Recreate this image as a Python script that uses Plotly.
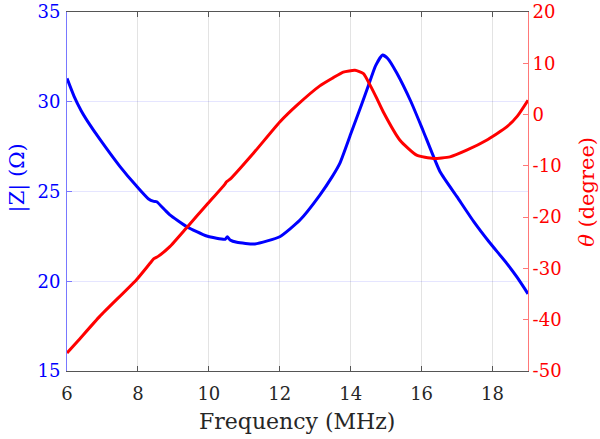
import plotly.graph_objects as go

# |Z| readings (MHz, ohm)
freq_z = [6.0, 6.2, 6.4, 6.6, 6.93, 7.49, 7.96, 8.29, 8.45, 8.53, 8.76, 8.9, 9.38, 9.94,
          10.46, 10.52, 10.6, 10.79, 11.3, 12.0, 12.57, 13.13, 13.47, 13.7, 14.0,
          14.3, 14.5, 14.7, 14.9, 15.05, 15.3, 15.7, 16.04, 16.52, 17.0, 17.46,
          17.9, 18.4, 18.7, 19.0]
z_mag = [31.3, 30.3, 29.5, 28.85, 27.9, 26.4, 25.3, 24.6, 24.45, 24.43, 23.97, 23.7, 23.04, 22.52,
         22.34, 22.48, 22.3, 22.17, 22.08, 22.48, 23.41, 24.8, 25.8, 26.6, 28.2,
         29.8, 30.9, 32.0, 32.6, 32.4, 31.6, 30.0, 28.4, 26.1, 24.7, 23.35,
         22.2, 21.0, 20.2, 19.3]

# phase readings (MHz, degree)
freq_th = [6.0, 6.3, 6.93, 7.96, 8.34, 8.45, 8.58, 8.9, 9.38, 9.94, 10.45, 10.5, 10.6,
           11.25, 12.0, 12.48, 13.13, 13.51, 13.79, 14.12, 14.36, 14.55, 14.74,
           14.92, 15.39, 15.86, 16.33, 16.8, 17.27, 17.83, 18.4, 18.7, 19.0]
theta = [-46.5, -44.2, -39.3, -32.2, -29.0, -28.1, -27.6, -25.75, -22.0, -17.6, -13.6, -13.1, -12.6,
         -7.6, -1.44, 1.8, 5.6, 7.2, 8.29, 8.62, 7.98, 5.7, 3.11,
         0.51, -5.0, -7.92, -8.56, -8.25, -6.95, -5.0, -2.41, -0.3, 2.8]

x_ticks = [6, 8, 10, 12, 14, 16, 18]
z_ticks = [15, 20, 25, 30, 35]
th_ticks = [20, 10, 0, -10, -20, -30, -40, -50]

serif = "DejaVu Serif"
blue = "#0000FF"
red = "#FF0000"
dark = "#262626"

fig = go.Figure()
fig.add_trace(go.Scatter(x=freq_z, y=z_mag, mode="lines", line=dict(color=blue, width=3),
                         line_shape="spline", line_smoothing=0.5, showlegend=False))
fig.add_trace(go.Scatter(x=freq_th, y=theta, mode="lines", line=dict(color=red, width=3),
                         line_shape="spline", line_smoothing=0.5, yaxis="y2", showlegend=False))

fig.update_layout(
    width=600, height=439,
    margin=dict(l=67, r=72, t=12, b=68),
    plot_bgcolor="white", paper_bgcolor="white",
    font=dict(family=serif, size=18, color=dark),
    xaxis=dict(
        range=[6, 19], tickvals=x_ticks, ticks="inside", ticklen=5, tickcolor="#555",
        showline=True, linecolor="#555", linewidth=1, mirror="ticks",
        showgrid=True, gridcolor="rgba(38,38,38,0.13)", zeroline=False,
        automargin=False, tickfont=dict(size=18, color=dark), ticklabelstandoff=6,
    ),
    yaxis=dict(
        range=[15, 35], tickvals=z_ticks, ticks="inside", ticklen=5, tickcolor="#7878FF",
        showline=True, linecolor="#7878FF", linewidth=1, mirror=False,
        showgrid=True, gridcolor="rgba(0,0,255,0.1)", zeroline=False,
        automargin=False, tickfont=dict(size=18, color=blue),
        ticklabeloverflow="allow", ticklabelstandoff=2,
    ),
    yaxis2=dict(
        range=[-50, 20], tickvals=th_ticks, ticktext=[str(v) for v in th_ticks],
        overlaying="y", side="right", anchor="x",
        ticks="inside", ticklen=5, tickcolor="#FF7878",
        showline=True, linecolor="#FF7878", linewidth=1,
        showgrid=False, zeroline=False,
        automargin=False, tickfont=dict(size=18, color=red),
        ticklabeloverflow="allow",
    ),
)

# axis titles placed by hand
fig.add_annotation(text="Frequency (MHz)", x=0.498, y=-0.142, xref="paper", yref="paper",
                   showarrow=False, xanchor="center", yanchor="middle",
                   font=dict(size=22, color=dark))
fig.add_annotation(text="|Z| (Ω)", x=-0.108, y=0.537, xref="paper", yref="paper",
                   showarrow=False, xanchor="center", yanchor="middle", textangle=-90,
                   font=dict(size=21, color=blue))
fig.add_annotation(text="<i>θ</i> (degree)", x=1.128, y=0.499, xref="paper", yref="paper",
                   showarrow=False, xanchor="center", yanchor="middle", textangle=-90,
                   font=dict(size=21, color=red))

# drop the default body margin so the figure sits at the window corner
fig.write_html("out.html", config={"displayModeBar": False},
               post_script="document.body.style.margin='0px';")
